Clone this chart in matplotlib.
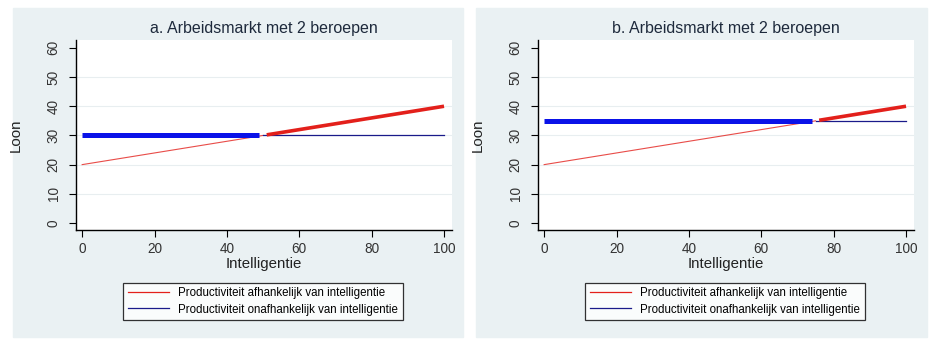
import numpy as np
import matplotlib.pyplot as plt
from matplotlib.patches import Rectangle
from matplotlib.lines import Line2D

plt.rcParams['font.family'] = ['Liberation Sans', 'DejaVu Sans']

# data for both panels
titles = ["a. Arbeidsmarkt met 2 beroepen", "b. Arbeidsmarkt met 2 beroepen"]
intel = [0, 100]
prod_dep = [20, 40]            # productivity rises with intelligence
prod_indep = [30, 35]          # flat productivity, panel a and b
switch = [50, 75]              # where the lines cross
legend_labels = ["Productiviteit afhankelijk van intelligentie",
                 "Productiviteit onafhankelijk van intelligentie"]

red = '#e3201b'
blue_thick = '#0a12e8'
navy = '#1a1a8a'
bg = '#eaf1f3'

fig = plt.figure(figsize=(9.42, 3.51), dpi=100)
W, H = 942, 351

panel_boxes = [(13, 463), (476, 927)]
axes_left = [76, 538]

for i in range(2):
    x0, x1 = panel_boxes[i]
    fig.patches.append(Rectangle((x0 / W, 1 - 337 / H), (x1 - x0) / W, 329 / H,
                                 transform=fig.transFigure, color=bg, zorder=-10))

    ax = fig.add_axes([axes_left[i] / W, (H - 230) / H, 376 / W, 190 / H])
    ax.set_zorder(1)
    ax.set_facecolor('white')
    ax.set_xlim(-1.7, 102.2)
    ax.set_ylim(-2.4, 62.7)

    slope = (prod_dep[1] - prod_dep[0]) / (intel[1] - intel[0])
    s = switch[i]
    level = prod_indep[i]
    y_at = lambda x: prod_dep[0] + slope * x

    # thin parts
    ax.plot([intel[0], s], [y_at(intel[0]), y_at(s)], color=red, lw=0.8, alpha=0.8, zorder=3)
    ax.plot([s, intel[1]], [level, level], color=navy, lw=0.9, zorder=3)
    # thick parts (the upper envelope)
    ax.plot([intel[0], s - 1], [level, level], color=blue_thick, lw=3.6,
            solid_capstyle='butt', zorder=4)
    ax.plot([s + 1, intel[1]], [y_at(s + 1), y_at(intel[1])], color=red, lw=2.6,
            solid_capstyle='butt', zorder=4)

    ax.set_yticks(range(0, 61, 10))
    ax.set_xticks(range(0, 101, 20))
    for yv in range(10, 60, 10):
        ax.axhline(yv, color='#e8eef0', lw=0.8, zorder=1)
    for lab in ax.get_yticklabels():
        lab.set_rotation(90)
        lab.set_va('center')
    ax.tick_params(axis='both', labelsize=9.8, colors='black', labelcolor='#333333',
                   length=5, width=0.8, direction='out')
    ax.tick_params(axis='y', pad=6)
    ax.spines['top'].set_visible(False)
    ax.spines['right'].set_visible(False)
    ax.spines['left'].set_linewidth(1.0)
    ax.spines['bottom'].set_linewidth(1.0)

    ax.set_xlabel("Intelligentie", fontsize=10.8, color='#222222', labelpad=1)
    ax.set_ylabel("Loon", fontsize=10.8, color='#222222', labelpad=17)
    ax.set_title(titles[i], fontsize=11.5, color='#1e2a3c', pad=5)

    handles = [Line2D([0], [0], color=red, lw=0.9), Line2D([0], [0], color=navy, lw=0.9)]
    cx = (axes_left[i] + 47 + 140) / W
    leg = ax.legend(handles, legend_labels, loc='center', bbox_to_anchor=(cx, 1 - 301.5 / H),
                    bbox_transform=fig.transFigure, fontsize=8.3, frameon=True,
                    fancybox=False, edgecolor='black', handlelength=3.6,
                    borderpad=0.4, labelspacing=0.35, handletextpad=0.8)
    leg.get_frame().set_linewidth(0.9)

fig.savefig("out.png", dpi=100, facecolor='white')
